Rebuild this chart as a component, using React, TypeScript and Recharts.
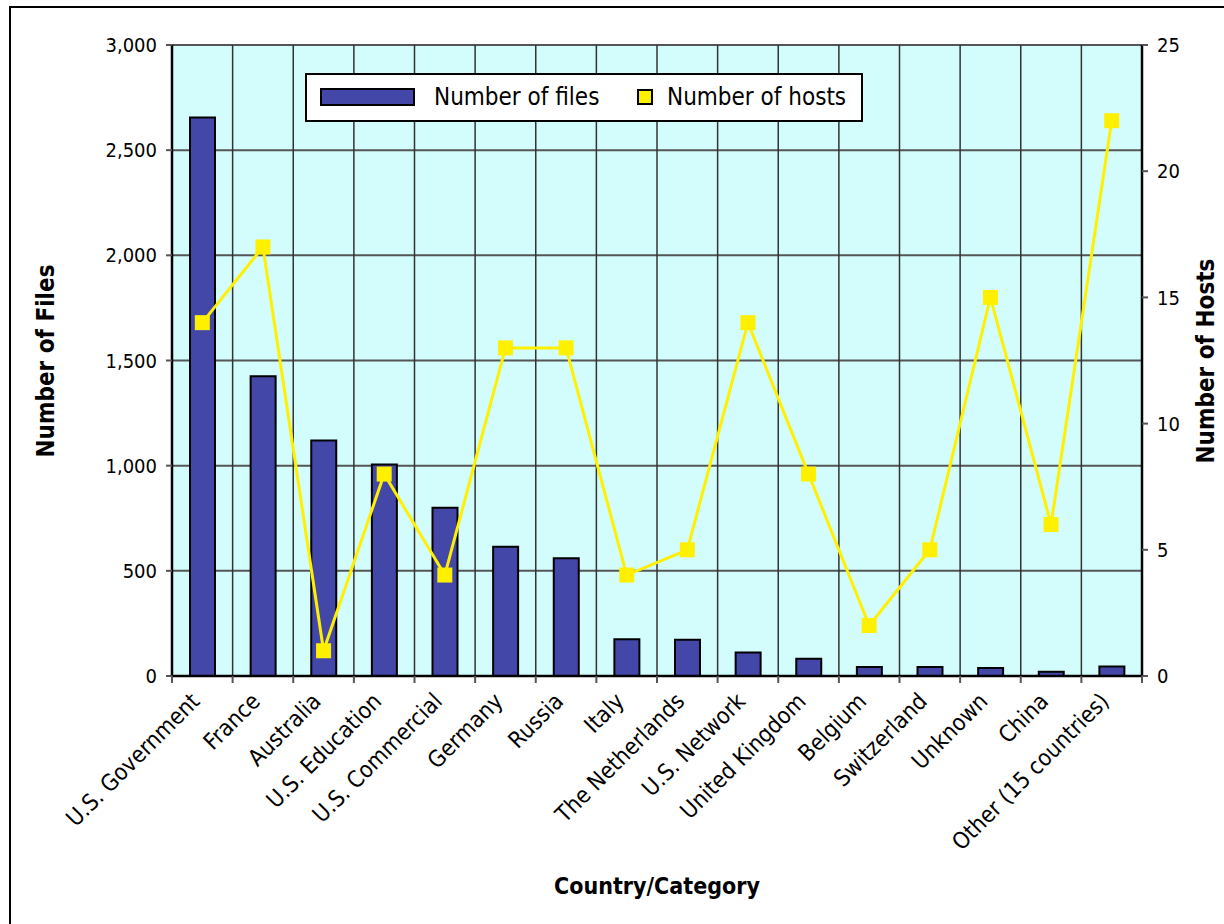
import React from "react";
import { Bar, CartesianGrid, ComposedChart, Line, XAxis, YAxis } from "recharts";

const categories = [
  "U.S. Government",
  "France",
  "Australia",
  "U.S. Education",
  "U.S. Commercial",
  "Germany",
  "Russia",
  "Italy",
  "The Netherlands",
  "U.S. Network",
  "United Kingdom",
  "Belgium",
  "Switzerland",
  "Unknown",
  "China",
  "Other (15 countries)"
];
const files = [2655, 1425, 1120, 1005, 800, 615, 560, 175, 172, 112, 82, 43, 43, 38, 20, 45];
const hosts = [14, 17, 1, 8, 4, 13, 13, 4, 5, 14, 8, 2, 5, 15, 6, 22];
const fileTicks = [0, 500, 1000, 1500, 2000, 2500, 3000];
const hostTicks = [0, 5, 10, 15, 20, 25];

const FONT = '"DejaVu Sans Condensed", "DejaVu Sans", sans-serif';
const W = 1224;
const H = 924;
const PLOT_W = 970;

const data = categories.map((name, i) => ({ name, files: files[i], hosts: hosts[i] }));

function CategoryTick(props: any) {
  const { x, y, payload, index } = props;
  const band = PLOT_W / categories.length;
  const ax = x - 7;
  const ay = y + 21;
  return (
    <g>
      <line x1={x - band / 2} x2={x - band / 2} y1={y} y2={y + 7} stroke="#555" strokeWidth={2} />
      {index === categories.length - 1 && (
        <line x1={x + band / 2} x2={x + band / 2} y1={y} y2={y + 7} stroke="#555" strokeWidth={2} />
      )}
      <text
        x={ax}
        y={ay}
        dy="0.35em"
        textAnchor="end"
        transform={`rotate(-45 ${ax} ${ay})`}
        fontSize={23}
        fontFamily={FONT}
        fill="#000"
      >
        {payload.value}
      </text>
    </g>
  );
}

function SquareDot(props: any) {
  const { cx, cy } = props;
  if (cx == null || cy == null) return null;
  return <rect x={cx - 7.5} y={cy - 7.5} width={15} height={15} fill="#FFF000" />;
}

export default function App() {
  return (
    <div style={{ position: "fixed", left: 0, top: 0, width: W, height: H, overflow: "hidden", background: "#fff", fontFamily: FONT }}>
      <div
        style={{
          position: "absolute",
          left: 9,
          top: 6,
          width: W,
          height: H,
          borderLeft: "2px solid #000",
          borderTop: "2px solid #000"
        }}
      />
      <ComposedChart width={W} height={H} data={data} margin={{ top: 45, right: 0, left: 0, bottom: 0 }} style={{ position: "absolute", left: 0, top: 0 }}>
        <CartesianGrid xAxisId="bottom" yAxisId="left" vertical={false} stroke="#555" strokeWidth={2} fill="#D3FDFD" fillOpacity={1} />
        <CartesianGrid
          xAxisId="bottom"
          yAxisId="left"
          horizontal={false}
          stroke="#333"
          strokeWidth={1.5}
          verticalCoordinatesGenerator={({ offset }: any) =>
            categories.map((_, i) => offset.left + (offset.width * i) / categories.length)
          }
        />
        <XAxis
          xAxisId="bottom"
          dataKey="name"
          height={248}
          interval={0}
          tickSize={0}
          tickMargin={0}
          tickLine={false}
          axisLine={{ stroke: "#000", strokeWidth: 2.5 }}
          tick={<CategoryTick />}
        />
        <XAxis xAxisId="top" orientation="top" dataKey="name" height={0} tick={false} tickLine={false} axisLine={{ stroke: "#000", strokeWidth: 2 }} />
        <YAxis
          yAxisId="left"
          width={172}
          domain={[0, 3000]}
          ticks={fileTicks}
          interval={0}
          tickFormatter={(v: number) => v.toLocaleString("en-US")}
          tick={{ fontSize: 20, fill: "#000", fontFamily: FONT }}
          tickSize={6}
          tickMargin={9}
          tickLine={{ stroke: "#555", strokeWidth: 2 }}
          axisLine={{ stroke: "#000", strokeWidth: 2.5 }}
        />
        <YAxis
          yAxisId="right"
          orientation="right"
          width={82}
          domain={[0, 25]}
          ticks={hostTicks}
          interval={0}
          tick={{ fontSize: 20, fill: "#000", fontFamily: FONT }}
          tickSize={6}
          tickMargin={9}
          tickLine={{ stroke: "#555", strokeWidth: 2 }}
          axisLine={{ stroke: "#000", strokeWidth: 2.5 }}
        />
        <Bar xAxisId="bottom" yAxisId="left" dataKey="files" fill="#4347A8" stroke="#000" strokeWidth={2} barSize={25} isAnimationActive={false} />
        <Line
          xAxisId="bottom"
          yAxisId="right"
          dataKey="hosts"
          stroke="#FFF000"
          strokeWidth={3}
          dot={<SquareDot />}
          activeDot={false}
          isAnimationActive={false}
        />
      </ComposedChart>

      <div
        style={{
          position: "absolute",
          left: 305,
          top: 73,
          width: 554,
          height: 45,
          background: "#fff",
          border: "2px solid #000",
          fontSize: 24,
          whiteSpace: "nowrap"
        }}
      >
        <span style={{ position: "absolute", left: 13, top: 13, width: 91, height: 14, background: "#4347A8", border: "2px solid #000" }} />
        <span style={{ position: "absolute", left: 127, top: 7, lineHeight: "30px" }}>Number of files</span>
        <span style={{ position: "absolute", left: 330, top: 14, width: 12, height: 12, background: "#FFF000", border: "2px solid #000" }} />
        <span style={{ position: "absolute", left: 360, top: 7, lineHeight: "30px" }}>Number of hosts</span>
      </div>

      <div
        style={{
          position: "absolute",
          left: 46,
          top: 361,
          transform: "translate(-50%, -50%) rotate(-90deg)",
          fontWeight: "bold",
          fontSize: 24,
          whiteSpace: "nowrap"
        }}
      >
        Number of Files
      </div>
      <div
        style={{
          position: "absolute",
          left: 1206,
          top: 361,
          transform: "translate(-50%, -50%) rotate(-90deg)",
          fontWeight: "bold",
          fontSize: 24,
          whiteSpace: "nowrap"
        }}
      >
        Number of Hosts
      </div>
      <div
        style={{
          position: "absolute",
          left: 657,
          top: 886,
          transform: "translate(-50%, -50%)",
          fontWeight: "bold",
          fontSize: 23,
          whiteSpace: "nowrap"
        }}
      >
        Country/Category
      </div>
    </div>
  );
}
